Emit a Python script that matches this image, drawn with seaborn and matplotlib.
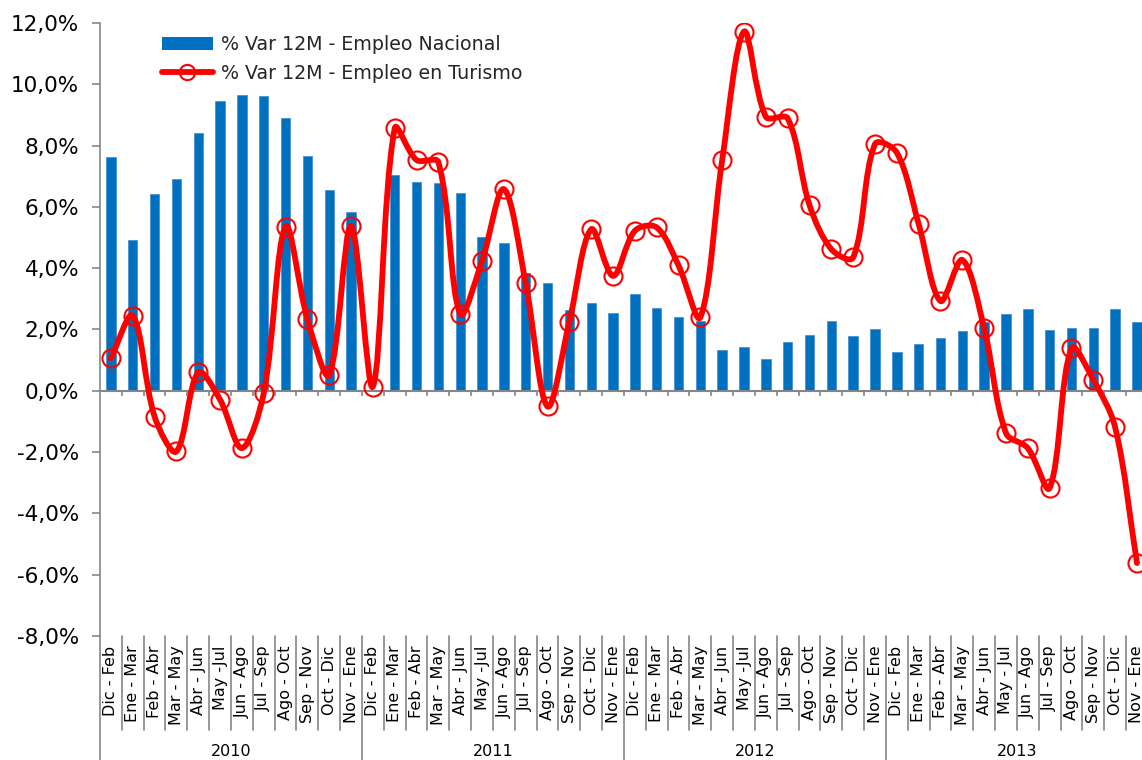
import matplotlib

matplotlib.use("Agg")

import matplotlib.pyplot as plt
import numpy as np
import pandas as pd
import seaborn as sns
from matplotlib.lines import Line2D
from matplotlib.patches import Patch, PathPatch
from matplotlib.path import Path


YEARS = ["2010", "2011", "2012", "2013"]

PERIODS = [
    "Dic - Feb", "Ene - Mar", "Feb - Abr", "Mar - May", "Abr - Jun", "May -Jul",
    "Jun - Ago", "Jul - Sep", "Ago - Oct", "Sep - Nov", "Oct - Dic", "Nov - Ene",
]
PERIODS_2013 = [
    "Dic - Feb", "Ene - Mar", "Feb - Abr", "Mar - May", "Abr - Jun", "May - Jul",
    "Jun - Ago", "Jul - Sep", "Ago - Oct", "Sep - Nov", "Oct - Dic", "Nov - Ene",
]

# % Var 12M - Empleo Nacional
NACIONAL_2010 = [7.63, 4.92, 6.42, 6.91, 8.41, 9.46, 9.65, 9.62, 8.90, 7.66, 6.55, 5.84]
NACIONAL_2011 = [np.nan, 7.04, 6.81, 6.78, 6.44, 5.01, 4.83, 3.84, 3.51, 2.64, 2.86, 2.54]
NACIONAL_2012 = [3.15, 2.71, 2.40, 2.28, 1.34, 1.42, 1.04, 1.60, 1.83, 2.27, 1.78, 2.02]
NACIONAL_2013 = [1.27, 1.54, 1.73, 1.96, 2.24, 2.49, 2.68, 1.99, 2.05, 2.04, 2.66, 2.24]

# % Var 12M - Empleo en Turismo
TURISMO_2010 = [1.06, 2.45, -0.84, -1.98, 0.60, -0.29, -1.87, -0.08, 5.36, 2.34, 0.52, 5.38]
TURISMO_2011 = [0.14, 8.56, 7.53, 7.46, 2.51, 4.24, 6.58, 3.51, -0.51, 2.25, 5.27, 3.75]
TURISMO_2012 = [5.22, 5.33, 4.09, 2.40, 7.53, 11.72, 8.94, 8.89, 6.06, 4.62, 4.35, 8.05]
TURISMO_2013 = [7.77, 5.44, 2.93, 4.27, 2.04, -1.38, -1.87, -3.17, 1.39, 0.36, -1.19, -5.62]

Y_TICKS = [-8, -6, -4, -2, 0, 2, 4, 6, 8, 10, 12]

BAR_COLOR = "#0070C0"
LINE_COLOR = "#FF0000"
AXIS_COLOR = "#868686"

W, H = 1142, 760


def smooth_path(x, y, sx, sy, f=1 / 3):
    # Excel style smoothed line: bezier through every point, handle length
    # split by the neighbouring segment lengths (measured in pixels)
    p = np.column_stack([np.asarray(x) * sx, np.asarray(y) * sy])
    n = len(p)
    c_out = np.zeros_like(p)
    c_in = np.zeros_like(p)
    for i in range(n):
        if i == 0:
            c_out[i] = p[0] + (p[1] - p[0]) * f
            continue
        if i == n - 1:
            c_in[i] = p[i] - (p[i] - p[i - 1]) * f
            continue
        t = p[i + 1] - p[i - 1]
        d_prev = np.hypot(*(p[i] - p[i - 1]))
        d_next = np.hypot(*(p[i + 1] - p[i]))
        s = d_prev + d_next
        c_out[i] = p[i] + t * f * d_next / s
        c_in[i] = p[i] - t * f * d_prev / s

    scale = np.array([sx, sy])
    verts = [tuple(p[0] / scale)]
    codes = [Path.MOVETO]
    for i in range(n - 1):
        verts += [tuple(c_out[i] / scale), tuple(c_in[i + 1] / scale), tuple(p[i + 1] / scale)]
        codes += [Path.CURVE4] * 3
    return Path(verts, codes)


def main():
    labels = PERIODS * 3 + PERIODS_2013
    nacional = NACIONAL_2010 + NACIONAL_2011 + NACIONAL_2012 + NACIONAL_2013
    turismo = TURISMO_2010 + TURISMO_2011 + TURISMO_2012 + TURISMO_2013
    n = len(labels)
    pos = np.arange(n)

    df = pd.DataFrame({"pos": pos, "nacional": nacional, "turismo": turismo})

    sns.set_style("white")
    plt.rcParams["font.family"] = ["DejaVu Sans"]

    fig = plt.figure(figsize=(W / 100, H / 100), dpi=100)
    ax_left, ax_top, ax_bottom = 100, 23, 636
    ax = fig.add_axes([ax_left / W, (H - ax_bottom) / H, 1 - ax_left / W, (ax_bottom - ax_top) / H])

    sns.barplot(
        data=df,
        x="pos",
        y="nacional",
        order=list(pos),
        color=BAR_COLOR,
        width=0.43,
        errorbar=None,
        saturation=1,
        edgecolor="#3d8ad0",
        linewidth=0.5,
        ax=ax,
        zorder=2,
    )

    ax.set_xlim(-0.5, 47.23)
    ax.set_ylim(-8, 12)

    # pixel size of one category / one percent point, for the smoothing
    sx = (W - ax_left) / (47.23 + 0.5)
    sy = (ax_bottom - ax_top) / 20
    path = smooth_path(df["pos"].to_numpy(float), df["turismo"].to_numpy(float), sx, sy)
    ax.add_patch(
        PathPatch(path, facecolor="none", edgecolor=LINE_COLOR, lw=4.2,
                  capstyle="round", joinstyle="round", zorder=3)
    )
    ax.plot(df["pos"], df["turismo"], linestyle="none", marker="o", ms=13,
            mfc="none", mec=LINE_COLOR, mew=1.5, zorder=4)

    # axes, ticks and labels
    ax.set_yticks(Y_TICKS)
    ax.set_yticklabels([f"{v:.1f}%".replace(".", ",") for v in Y_TICKS])
    ax.tick_params(axis="y", length=6, width=1.2, color=AXIS_COLOR, pad=9,
                   labelsize=15.5, labelcolor="black", left=True, direction="out")
    ax.set_xticks(pos)
    ax.set_xticklabels(labels, rotation=90, fontsize=11.5)
    ax.tick_params(axis="x", length=0, pad=7, labelcolor="black")
    ax.set_xlabel("")
    ax.set_ylabel("")

    for side in ["top", "right", "bottom"]:
        ax.spines[side].set_visible(False)
    ax.spines["left"].set_color(AXIS_COLOR)
    ax.spines["left"].set_linewidth(1.2)

    ax.axhline(0, color=AXIS_COLOR, lw=1.5, zorder=2.5)
    bounds = np.arange(0.5, n, 1.0)
    ax.vlines(bounds, -0.17, 0, color=AXIS_COLOR, lw=1.2, zorder=2.5)

    # category separators and year groups under the plot
    xt = ax.get_xaxis_transform()
    for b in bounds:
        year_edge = (b + 0.5) % 12 == 0
        ax.plot([b, b], [0, -0.21 if year_edge else -0.153], transform=xt,
                color=AXIS_COLOR, lw=1.2, clip_on=False)
    ax.plot([-0.5, -0.5], [0, -0.21], transform=xt, color=AXIS_COLOR, lw=1.2,
            clip_on=False)
    for i, year in enumerate(YEARS):
        ax.text(i * 12 + 5.5, -0.189, year, transform=xt, ha="center",
                va="center", fontsize=11.5, color="black")

    handles = [
        Patch(facecolor=BAR_COLOR, edgecolor="none"),
        Line2D([], [], color=LINE_COLOR, lw=4.2, marker="o", ms=11, mfc="none",
               mec=LINE_COLOR, mew=1.5),
    ]
    fig.legend(
        handles,
        ["% Var 12M - Empleo Nacional", "% Var 12M - Empleo en Turismo"],
        loc="upper left",
        bbox_to_anchor=(162 / W, 1 - 35 / H),
        frameon=False,
        fontsize=13.7,
        handlelength=2.68,
        handletextpad=0.4,
        borderpad=0,
        borderaxespad=0,
        labelspacing=0.5,
    )

    fig.savefig("out.png", dpi=100)
    plt.close(fig)


if __name__ == "__main__":
    main()
